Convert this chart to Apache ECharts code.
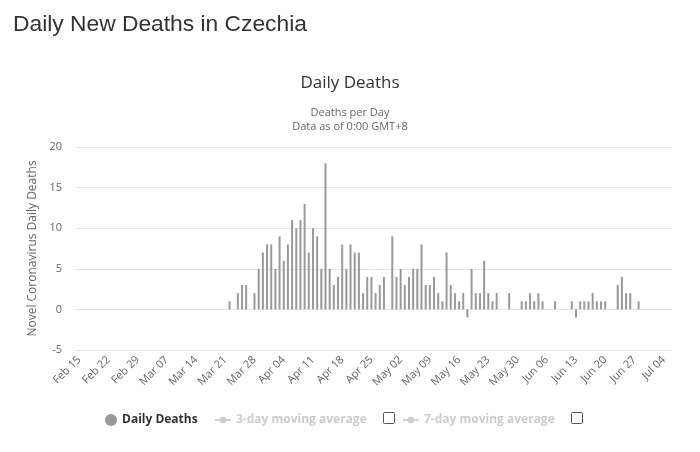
<!DOCTYPE html>
<html>
<head>
<meta charset="utf-8">
<script src="https://cdn.jsdelivr.net/npm/echarts@6/dist/echarts.min.js"></script>
<style>
html,body{margin:0;padding:0;background:#fff;}
#chart{width:700px;height:452px;}
</style>
</head>
<body>
<div id="chart"></div>
<script>
// Tick labels shown on the x axis (every 7 days)
const tickLabels = ['Feb 15','Feb 22','Feb 29','Mar 07','Mar 14','Mar 21','Mar 28','Apr 04','Apr 11','Apr 18','Apr 25','May 02','May 09','May 16','May 23','May 30','Jun 06','Jun 13','Jun 20','Jun 27','Jul 04'];
const yTicks = [-5, 0, 5, 10, 15, 20];

// Daily deaths from Feb 15 to Jul 04 (one value per day)
const deaths = [
  0,0,0,0,0,0,0,0,0,0,0,0,0,0,0,0,0,0,0,0,0,0,0,0,0,0,0,0,0,0,0,0,0,0,0,0,
  1,0,2,3,3,0,2,5,7,8,8,5,9,6,8,11,10,11,13,7,10,9,5,18,5,3,4,8,5,8,7,7,2,4,4,2,
  3,4,0,9,4,5,3,4,5,5,8,3,3,4,2,1,7,3,2,1,2,-1,5,2,2,6,2,1,2,0,0,2,0,0,1,1,2,1,2,1,
  0,0,1,0,0,0,1,-1,1,1,1,2,1,1,1,0,0,3,4,2,2,0,1,
  0,0,0,0,0,0
];

// Category axis: one day before the first tick to two days after the last (padding of the plot area)
const months = ['Jan','Feb','Mar','Apr','May','Jun','Jul'];
const categories = [];
for (let i = -1; i <= 142; i++) {
  const d = new Date(Date.UTC(2020, 1, 15 + i));
  categories.push(months[d.getUTCMonth()] + ' ' + String(d.getUTCDate()).padStart(2, '0'));
}
const barData = categories.map((c, k) => {
  const i = k - 1;
  return (i >= 0 && i < deaths.length) ? deaths[i] : null;
});

const chart = echarts.init(document.getElementById('chart'), null, {renderer: 'canvas'});
const font = '"Open Sans", sans-serif';
const sel = {'Daily Deaths': true, '3-day moving average': false, '7-day moving average': false};
chart.setOption({
  animation: false,
  backgroundColor: '#ffffff',
  title: [
    {text: 'Daily New Deaths in Czechia', left: 8, top: 8,
     textStyle: {fontFamily: '"Liberation Sans", Arial, sans-serif', fontSize: 22.8, fontWeight: 'normal', color: '#333333'}},
    {text: 'Daily Deaths', left: 'center', top: 70,
     textStyle: {fontFamily: font, fontSize: 17, fontWeight: 'normal', color: '#333333'}},
    {text: 'Deaths per Day\nData as of 0:00 GMT+8', left: 'center', top: 101,
     textStyle: {fontFamily: font, fontSize: 11, fontWeight: 'normal', color: '#666666', lineHeight: 14, align: 'center'}}
  ],
  grid: {left: 75, right: 28, top: 147, bottom: 102, containLabel: false},
  legend: [
    {data: ['Daily Deaths'], left: 100, top: 409, icon: 'circle', itemWidth: 12, itemHeight: 12,
     textStyle: {fontFamily: font, fontSize: 12, fontWeight: 'bold', color: '#333333'},
     inactiveColor: '#cccccc', selected: sel},
    {data: ['3-day moving average'], left: 209, top: 409, itemWidth: 16, itemHeight: 8,
     textStyle: {fontFamily: font, fontSize: 12, fontWeight: 'bold', color: '#333333'},
     inactiveColor: '#cccccc', selected: sel},
    {data: ['7-day moving average'], left: 397, top: 409, itemWidth: 16, itemHeight: 8,
     textStyle: {fontFamily: font, fontSize: 12, fontWeight: 'bold', color: '#333333'},
     inactiveColor: '#cccccc', selected: sel}
  ],
  xAxis: {
    type: 'category',
    data: categories,
    boundaryGap: false,
    axisLine: {show: true, onZero: false, lineStyle: {color: '#e6e6e6'}},
    axisTick: {show: false},
    axisLabel: {
      rotate: 45, margin: 8,
      interval: (index, value) => tickLabels.indexOf(value) >= 0 && index >= 1 && (index - 1) % 7 === 0,
      fontFamily: font, fontSize: 11, color: '#666666'
    },
    splitLine: {show: false}
  },
  yAxis: {
    type: 'value', min: yTicks[0], max: yTicks[yTicks.length - 1], interval: 5,
    name: 'Novel Coronavirus Daily Deaths', nameLocation: 'middle', nameGap: 36, nameRotate: 90,
    nameTextStyle: {fontFamily: font, fontSize: 12, color: '#666666'},
    axisLine: {show: false}, axisTick: {show: false},
    axisLabel: {fontFamily: font, fontSize: 11, color: '#666666', margin: 13},
    splitLine: {lineStyle: {color: '#e6e6e6', width: 1}}
  },
  series: [
    {name: 'Daily Deaths', type: 'bar', data: barData, barWidth: 2,
     itemStyle: {color: '#999999'}},
    {name: '3-day moving average', type: 'line', data: [], symbol: 'circle', symbolSize: 6,
     itemStyle: {color: '#666666'}},
    {name: '7-day moving average', type: 'line', data: [], symbol: 'circle', symbolSize: 6,
     itemStyle: {color: '#666666'}}
  ],
  graphic: [
    {type: 'rect', shape: {x: 383.5, y: 412.5, width: 11, height: 11, r: 1},
     style: {fill: '#ffffff', stroke: '#555555', lineWidth: 1}},
    {type: 'rect', shape: {x: 571.5, y: 412.5, width: 11, height: 11, r: 1},
     style: {fill: '#ffffff', stroke: '#555555', lineWidth: 1}}
  ]
});
</script>
</body>
</html>
